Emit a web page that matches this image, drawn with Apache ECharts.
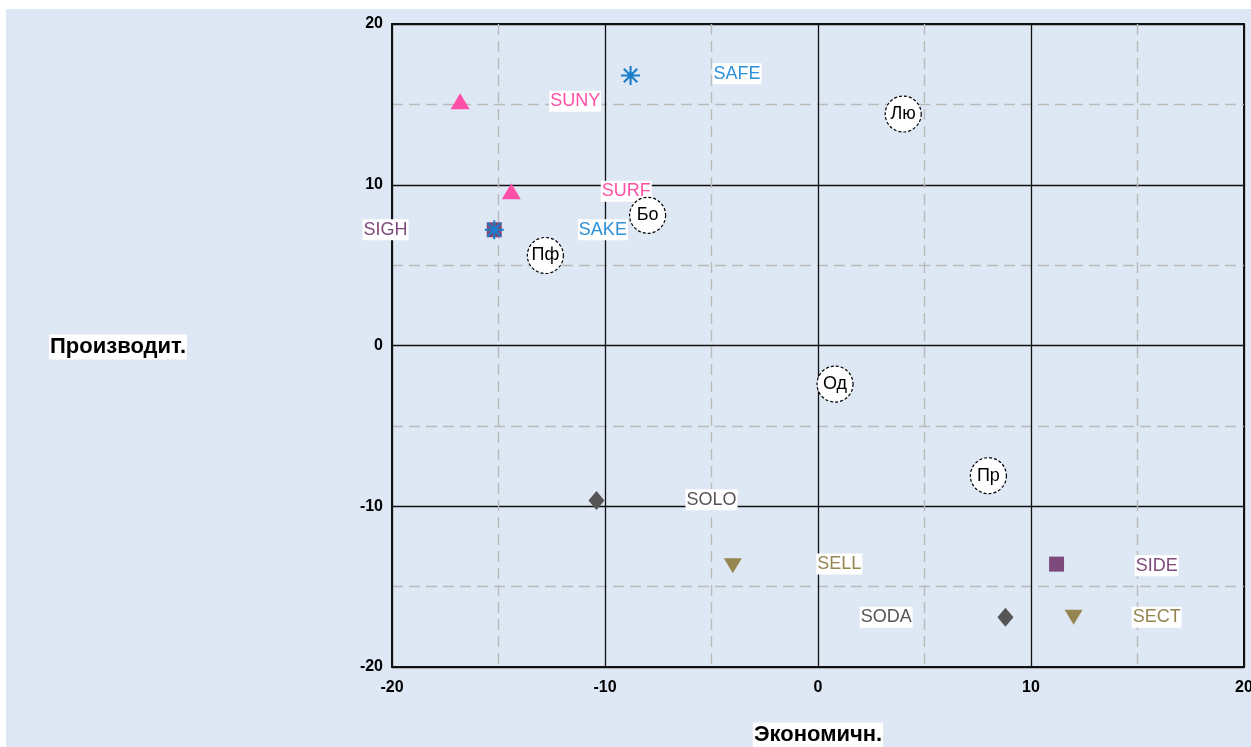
<!DOCTYPE html>
<html>
<head>
<meta charset="utf-8">
<script src="https://cdn.jsdelivr.net/npm/echarts@6/dist/echarts.min.js"></script>
<style>
  html, body { margin: 0; padding: 0; background: #fff; }
  #chart { position: absolute; left: 6px; top: 9px; width: 1245px; height: 738px; background: #dde8f4; }
</style>
</head>
<body>
<div id="chart"></div>
<script>
// точки по группам
var pinkPts = [[-16.8, 15.2], [-14.4, 9.6]];
var bluePts = [[-8.8, 16.8], [-15.2, 7.2]];
var purplePts = [[-15.2, 7.2], [11.2, -13.6]];
var grayPts = [[-10.4, -9.65], [8.8, -16.9]];
var olivePts = [[-4.0, -13.7], [12.0, -16.9]];

// подписи
var labelNames = ['SUNY', 'SURF', 'SAFE', 'SAKE', 'SIGH', 'SIDE', 'SOLO', 'SODA', 'SELL', 'SECT'];
var labelX = [-11.4, -9.0, -3.8, -10.1, -20.3, 15.9, -5.0, 3.2, 1.0, 15.9];
var labelY = [15.2, 9.6, 16.9, 7.2, 7.2, -13.7, -9.6, -16.9, -13.6, -16.9];

// кружки
var circleNames = ['Лю', 'Бо', 'Пф', 'Од', 'Пр'];
var circleX = [4.0, -8.0, -12.8, 0.8, 8.0];
var circleY = [14.4, 8.1, 5.6, -2.4, -8.1];

var axisMin = -20, axisMax = 20, axisStep = 10;

var colors = {
  pink: '#ff4fa6',
  blue: '#1a7dcb',
  purple: '#7e4a7c',
  gray: '#555555',
  olive: '#958650'
};
var labelColors = [colors.pink, colors.pink, '#2b90da', '#2b90da', colors.purple, colors.purple,
  colors.gray, colors.gray, colors.olive, colors.olive];

var tickFont = 'Liberation Sans Narrow, Liberation Sans, Arial';

// звёздочка: 4 палочки + центр
function asteriskPath() {
  var s = 'path://';
  var w = 0.11;
  for (var k = 0; k < 4; k++) {
    var a = k * Math.PI / 4, c = Math.cos(a), sn = Math.sin(a);
    var pts = [[-1, -w], [1, -w], [1, w], [-1, w]].map(function (p) {
      return [(p[0] * c - p[1] * sn).toFixed(3), (p[0] * sn + p[1] * c).toFixed(3)];
    });
    s += 'M' + pts[0].join(',') + ' L' + pts[1].join(',') + ' L' + pts[2].join(',') + ' L' + pts[3].join(',') + ' Z ';
  }
  s += 'M-0.3,-0.3 L0.3,-0.3 L0.3,0.3 L-0.3,0.3 Z';
  return s;
}

var labelData = labelNames.map(function (n, i) {
  return { name: n, value: [labelX[i], labelY[i]], label: { color: labelColors[i] } };
});
var circleData = circleNames.map(function (n, i) {
  return { name: n, value: [circleX[i], circleY[i]] };
});

function valueAxis(margin) {
  return {
    type: 'value',
    min: axisMin,
    max: axisMax,
    interval: axisStep,
    axisLine: { show: false },
    axisTick: { show: false },
    axisLabel: { color: '#000', fontWeight: 'bold', fontSize: 16, margin: margin, fontFamily: tickFont },
    splitLine: { show: true, lineStyle: { color: '#111', width: 1.3 } },
    minorTick: { show: false, splitNumber: 2 },
    minorSplitLine: { show: true, lineStyle: { color: '#bababa', width: 1.4, type: [11, 6] } }
  };
}

var myChart = echarts.init(document.getElementById('chart'));
var option = {
  backgroundColor: '#dde8f4',
  animation: false,
  grid: {
    left: 386, top: 15, right: 7, bottom: 80, outerBoundsMode: 'none',
    show: true, borderColor: '#111', borderWidth: 2, backgroundColor: 'transparent'
  },
  xAxis: valueAxis(13),
  yAxis: valueAxis(9),
  graphic: [
    {
      type: 'text', x: 112, y: 338,
      style: {
        text: 'Производит.', fill: '#000', font: 'bold 22px Liberation Sans, Arial',
        backgroundColor: '#fff', padding: [2, 1, 1, 1], align: 'center', verticalAlign: 'middle'
      }
    },
    {
      type: 'text', x: 812, y: 726,
      style: {
        text: 'Экономичн.', fill: '#000', font: 'bold 22px Liberation Sans, Arial',
        backgroundColor: '#fff', padding: [2, 1, 1, 1], align: 'center', verticalAlign: 'middle'
      }
    }
  ],
  series: [
    {
      name: 'labels', type: 'scatter', data: labelData, symbolSize: 0, clip: false, z: 3,
      itemStyle: { opacity: 1 },
      label: {
        show: true, position: 'inside', formatter: '{b}', fontSize: 18,
        fontFamily: 'Liberation Sans, Arial', backgroundColor: '#fff', padding: [2, 1, 1, 1]
      }
    },
    {
      name: 'pink', type: 'scatter', data: pinkPts, symbol: 'triangle', symbolSize: [19, 16],
      itemStyle: { color: colors.pink, opacity: 1 }, z: 4
    },
    {
      name: 'purple', type: 'scatter', data: purplePts, symbol: 'rect', symbolSize: 15,
      itemStyle: { color: colors.purple, opacity: 1 }, z: 4
    },
    {
      name: 'blue', type: 'scatter', data: bluePts, symbol: asteriskPath(), symbolSize: 19,
      itemStyle: { color: colors.blue, opacity: 1 }, z: 5
    },
    {
      name: 'gray', type: 'scatter', data: grayPts, symbol: 'diamond', symbolSize: [16, 19],
      itemStyle: { color: colors.gray, opacity: 1 }, z: 4
    },
    {
      name: 'olive', type: 'scatter', data: olivePts, symbol: 'triangle', symbolRotate: 180,
      symbolSize: [18, 15], itemStyle: { color: colors.olive, opacity: 1 }, z: 4
    },
    {
      name: 'circles', type: 'scatter', data: circleData, symbol: 'circle', symbolSize: 36, z: 6,
      itemStyle: { color: '#fff', borderColor: '#000', borderWidth: 1.2, borderType: [3, 2], opacity: 1 },
      label: { show: true, position: 'inside', formatter: '{b}', color: '#000', fontSize: 18, fontFamily: 'Liberation Sans, Arial' }
    }
  ]
};
myChart.setOption(option);
</script>
</body>
</html>
